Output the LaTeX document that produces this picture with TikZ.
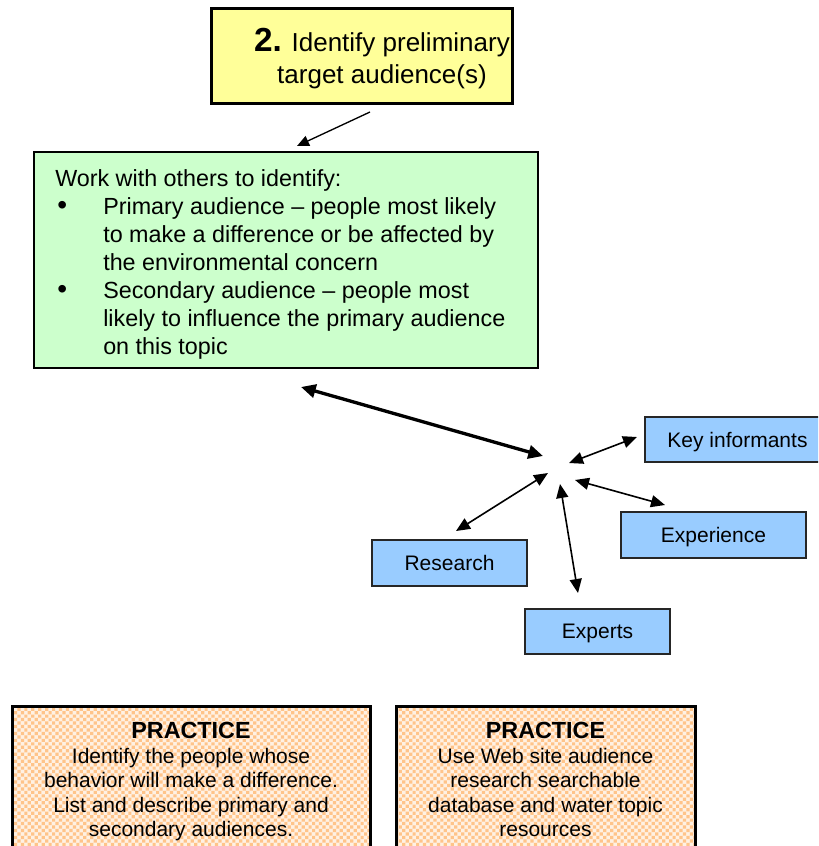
\documentclass[tikz,border=0pt]{standalone}
\usepackage{fontspec}
\setmainfont{Liberation Sans}
\usetikzlibrary{arrows.meta,patterns}

\definecolor{boxyellow}{HTML}{FFFF99}
\definecolor{boxgreen}{HTML}{CCFFCC}
\definecolor{boxblue}{HTML}{99CCFF}
\definecolor{peachbg}{HTML}{FFF1E3}
\definecolor{peachdot}{HTML}{FFC48A}

% staggered small squares for the practice panels
\pgfdeclarepatternformonly{peachdots}{\pgfqpoint{-1pt}{-1pt}}{\pgfqpoint{6pt}{6pt}}{\pgfqpoint{5.2pt}{5.2pt}}{%
  \pgfpathrectangle{\pgfqpoint{0pt}{0pt}}{\pgfqpoint{2.4pt}{2.4pt}}%
  \pgfpathrectangle{\pgfqpoint{2.6pt}{2.6pt}}{\pgfqpoint{2.4pt}{2.4pt}}%
  \pgfusepath{fill}}

\newcommand{\bulletmark}{\makebox[36pt][l]{\hspace{1.5pt}{\fontsize{21}{21}\selectfont\textbullet}}}
% left padding that moves a centred heading line a little to the right
\newcommand{\headpad}{\hspace*{30pt}}

\tikzset{
  titlebox/.style={draw=black, line width=2.25pt, fill=boxyellow, inner sep=0pt,
    align=center, font=\fontsize{19.5}{24}\selectfont},
  taskbox/.style={draw=black, line width=1.5pt, fill=boxgreen, inner sep=0pt},
  sourcebox/.style={draw=black!85, line width=1.4pt, fill=boxblue, inner sep=0pt,
    text depth=0pt, font=\fontsize{15.75}{18}\selectfont},
  practicebox/.style={draw=black, line width=2.25pt, preaction={fill=peachbg},
    pattern=peachdots, pattern color=peachdot, inner sep=0pt},
  practicetext/.style={inner sep=0pt, align=center, anchor=north,
    font=\fontsize{15.75}{18.4}\selectfont},
  thinlink/.style={line width=1.2pt, {Triangle[length=10.5pt,width=9pt]}-{Triangle[length=10.5pt,width=9pt]}},
  thicklink/.style={line width=2.5pt, {Triangle[length=11pt,width=10pt]}-{Triangle[length=11pt,width=10pt]}},
  pointer/.style={line width=1pt, -{Triangle[length=9pt,width=8pt]}},
}

\begin{document}
\begin{tikzpicture}[x=0.75pt, y=-0.75pt]
  \useasboundingbox (0,0) rectangle (818,846);
  \clip (0,0) rectangle (818,846);

  % step heading
  \node[titlebox, minimum width=225.75pt, minimum height=71.25pt] (title) at (362,56)
    {\headpad\rule{0pt}{21.3pt}{\bfseries\fontsize{25}{24}\selectfont 2.} Identify preliminary\\
     \headpad target audience(s)};

  % task description
  \node[taskbox, minimum width=378pt, minimum height=162pt] (task) at (286,260) {};
  \node[inner sep=0pt, anchor=north west, align=left,
        font=\fontsize{17.5}{21}\selectfont] (tasktext) at (55,169.5)
    {Work with others to identify:\\
     \bulletmark Primary audience – people most likely\\
     \hspace*{36pt}to make a difference or be affected by\\
     \hspace*{36pt}the environmental concern\\
     \bulletmark Secondary audience – people most\\
     \hspace*{36pt}likely to influence the primary audience\\
     \hspace*{36pt}on this topic};

  % information sources
  \node[sourcebox, minimum width=138.75pt, minimum height=33.75pt] (key) at (737.5,439.5) {Key informants};
  \node[sourcebox, minimum width=138.75pt, minimum height=34.5pt] (exp) at (713.5,535) {Experience};
  \node[sourcebox, minimum width=116.25pt, minimum height=34.5pt] (res) at (449.5,563) {Research};
  \node[sourcebox, minimum width=108.75pt, minimum height=33.75pt] (xpt) at (597.5,631.5) {Experts};

  % practice panels
  \node[practicebox, anchor=north, minimum width=268.5pt, minimum height=160pt] (pl) at (191,705) {};
  \node[practicetext] (pltext) at (191,722)
    {{\bfseries\fontsize{17.5}{18.4}\selectfont PRACTICE}\\
     Identify the people whose\\
     behavior will make a difference.\\
     List and describe primary and\\
     secondary audiences.};
  \node[practicebox, anchor=north, minimum width=224.25pt, minimum height=160pt] (pr) at (545.5,705) {};
  \node[practicetext] (prtext) at (545.5,722)
    {{\bfseries\fontsize{17.5}{18.4}\selectfont PRACTICE}\\
     Use Web site audience\\
     research searchable\\
     database and water topic\\
     resources};

  % connector end points
  \coordinate (titleout) at (370,112);
  \coordinate (taskin) at (297,146);
  \coordinate (taskhub) at (301,387);
  \coordinate (hubtask) at (543,456);
  \coordinate (hubkey) at (569,463);
  \coordinate (keyhub) at (637,437);
  \coordinate (hubexp) at (575,480);
  \coordinate (exphub) at (665,505);
  \coordinate (hubres) at (548,473);
  \coordinate (reshub) at (456,531);
  \coordinate (hubxpt) at (560,484);
  \coordinate (xpthub) at (578,593);

  % connectors
  \draw[pointer] (titleout) -- (taskin);
  \draw[thicklink] (taskhub) -- (hubtask);
  \draw[thinlink] (hubkey) -- (keyhub);
  \draw[thinlink] (hubexp) -- (exphub);
  \draw[thinlink] (hubres) -- (reshub);
  \draw[thinlink] (hubxpt) -- (xpthub);
\end{tikzpicture}
\end{document}
